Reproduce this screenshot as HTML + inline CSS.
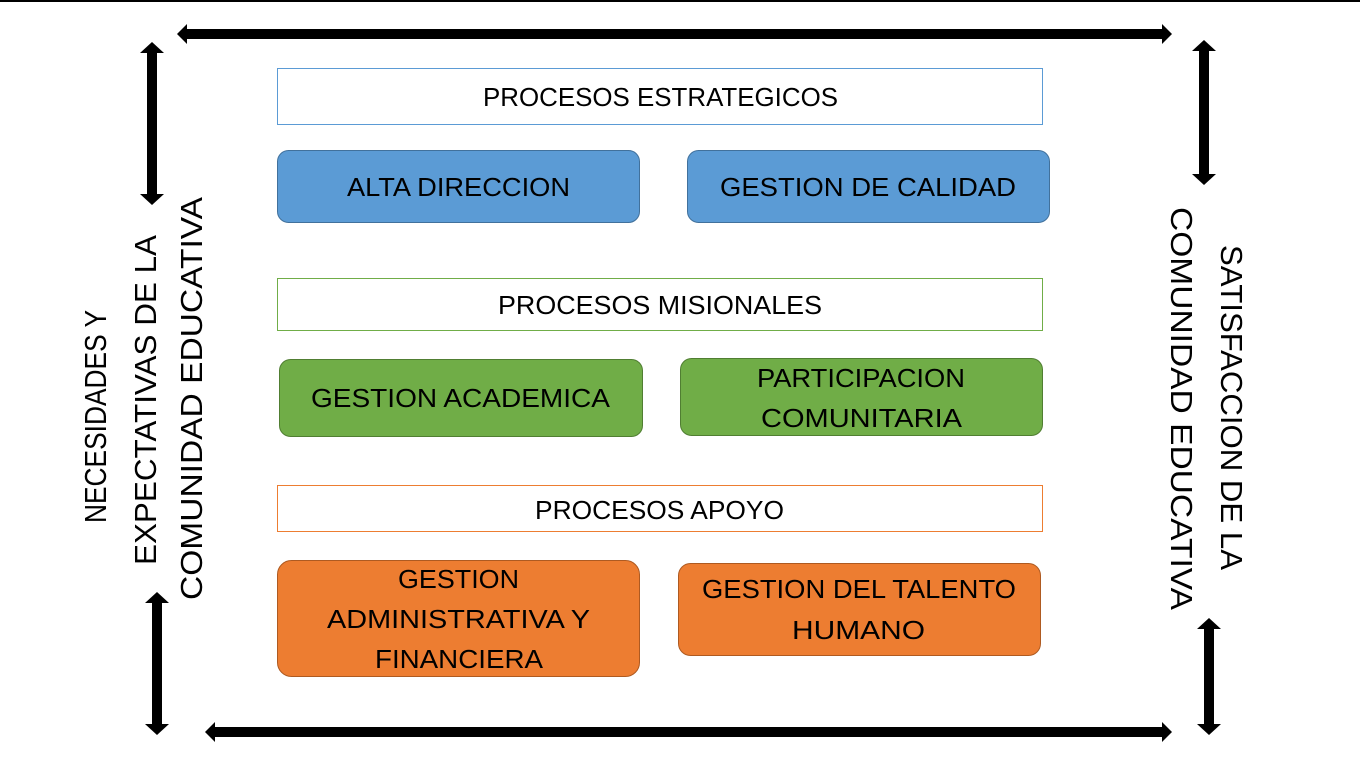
<!DOCTYPE html>
<html><head><meta charset="utf-8"><style>
html,body{margin:0;padding:0;background:#fff;}
svg{display:block;}
text{font-family:"Liberation Sans",sans-serif;font-size:26px;fill:#000;}
</style></head><body>
<svg width="1360" height="768" viewBox="0 0 1360 768" xmlns="http://www.w3.org/2000/svg">
<rect x="0" y="0" width="1360" height="768" fill="#fff"/>
<rect x="0" y="0" width="1360" height="2" fill="#000"/>
<!-- arrows -->
<g fill="#000">
<polygon points="177,34 187,24 187,29 1162,29 1162,24 1172,34 1162,44 1162,39 187,39 187,44"/>
<polygon points="205,732 215,722 215,727 1162,727 1162,722 1172,732 1162,742 1162,737 215,737 215,742"/>
<polygon points="152,42 164,53 157,53 157,194 164,194 152,205 140,194 147,194 147,53 140,53"/>
<polygon points="157,592 169,603 162,603 162,724 169,724 157,735 145,724 152,724 152,603 145,603"/>
<polygon points="1204,40 1216,51 1209,51 1209,174 1216,174 1204,185 1192,174 1199,174 1199,51 1192,51"/>
<polygon points="1209,618 1221,629 1214,629 1214,724 1221,724 1209,735 1197,724 1204,724 1204,629 1197,629"/>
</g>
<!-- headers -->
<rect x="277.5" y="68.5" width="765" height="56" fill="#fff" stroke="#5b9bd5"/>
<rect x="277.5" y="278.5" width="765" height="52" fill="#fff" stroke="#70ad47"/>
<rect x="277.5" y="485.5" width="765" height="46" fill="#fff" stroke="#ed7d31"/>
<!-- boxes -->
<rect x="277.5" y="150.5" width="362" height="72" rx="11" fill="#5b9bd5" stroke="#41719c"/>
<rect x="687.5" y="150.5" width="362" height="72" rx="11" fill="#5b9bd5" stroke="#41719c"/>
<rect x="279.5" y="359.5" width="363" height="77" rx="11" fill="#70ad47" stroke="#507e32"/>
<rect x="680.5" y="358.5" width="362" height="77" rx="11" fill="#70ad47" stroke="#507e32"/>
<rect x="277.5" y="560.5" width="362" height="116" rx="14" fill="#ed7d31" stroke="#ae5a21"/>
<rect x="678.5" y="563.5" width="362" height="92" rx="12" fill="#ed7d31" stroke="#ae5a21"/>
<!-- texts -->
<g lengthAdjust="spacingAndGlyphs">
<text x="483" y="106" textLength="355" lengthAdjust="spacingAndGlyphs">PROCESOS ESTRATEGICOS</text>
<text x="347" y="196" textLength="223" lengthAdjust="spacingAndGlyphs">ALTA DIRECCION</text>
<text x="720" y="196" textLength="296" lengthAdjust="spacingAndGlyphs">GESTION DE CALIDAD</text>
<text x="498" y="314" textLength="324" lengthAdjust="spacingAndGlyphs">PROCESOS MISIONALES</text>
<text x="311" y="407" textLength="299" lengthAdjust="spacingAndGlyphs">GESTION ACADEMICA</text>
<text x="757" y="387" textLength="208" lengthAdjust="spacingAndGlyphs">PARTICIPACION</text>
<text x="761" y="427" textLength="201" lengthAdjust="spacingAndGlyphs">COMUNITARIA</text>
<text x="535" y="519" textLength="249" lengthAdjust="spacingAndGlyphs">PROCESOS APOYO</text>
<text x="398" y="588" textLength="121" lengthAdjust="spacingAndGlyphs">GESTION</text>
<text x="327" y="628" textLength="263" lengthAdjust="spacingAndGlyphs">ADMINISTRATIVA Y</text>
<text x="375" y="668" textLength="168" lengthAdjust="spacingAndGlyphs">FINANCIERA</text>
<text x="702" y="598" textLength="314" lengthAdjust="spacingAndGlyphs">GESTION DEL TALENTO</text>
<text x="792" y="639" textLength="133" lengthAdjust="spacingAndGlyphs">HUMANO</text>
</g>
<!-- rotated left -->
<g style="font-size:31px">
<text transform="translate(106,523) rotate(-90)" textLength="213" lengthAdjust="spacingAndGlyphs" style="font-size:31px">NECESIDADES Y</text>
<text transform="translate(156,565) rotate(-90)" textLength="330" lengthAdjust="spacingAndGlyphs" style="font-size:31px">EXPECTATIVAS DE LA</text>
<text transform="translate(202,600) rotate(-90)" textLength="403" lengthAdjust="spacingAndGlyphs" style="font-size:31px">COMUNIDAD EDUCATIVA</text>
<text transform="translate(1221,245) rotate(90)" textLength="325" lengthAdjust="spacingAndGlyphs" style="font-size:31px">SATISFACCION DE LA</text>
<text transform="translate(1171,207) rotate(90)" textLength="403" lengthAdjust="spacingAndGlyphs" style="font-size:31px">COMUNIDAD EDUCATIVA</text>
</g>
</svg>
</body></html>
